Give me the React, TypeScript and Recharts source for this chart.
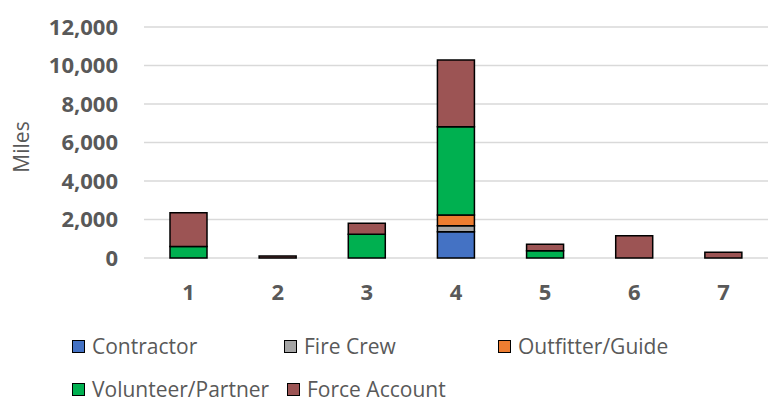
import { BarChart, Bar, XAxis, YAxis, CartesianGrid } from 'recharts'

const regions = ['1', '2', '3', '4', '5', '6', '7']
const contractor = [0, 0, 0, 1370, 0, 0, 0]
const fireCrew = [0, 0, 0, 310, 0, 0, 0]
const outfitter = [0, 0, 0, 550, 0, 0, 0]
const volunteer = [600, 0, 1230, 4590, 380, 0, 0]
const forceAccount = [1750, 100, 570, 3470, 330, 1160, 300]
const yTicks = [0, 2000, 4000, 6000, 8000, 10000, 12000]

const series = [
  { key: 'contractor', name: 'Contractor', color: '#4472C4' },
  { key: 'fireCrew', name: 'Fire Crew', color: '#A5A5A5' },
  { key: 'outfitter', name: 'Outfitter/Guide', color: '#ED7D31' },
  { key: 'volunteer', name: 'Volunteer/Partner', color: '#00B050' },
  { key: 'forceAccount', name: 'Force Account', color: '#9C5454' },
]

const data = regions.map((r, i) => ({
  name: r,
  contractor: contractor[i],
  fireCrew: fireCrew[i],
  outfitter: outfitter[i],
  volunteer: volunteer[i],
  forceAccount: forceAccount[i],
}))

// legend slots, laid out like the Excel legend
const legendPos = [
  { left: 72, top: 346 },
  { left: 284, top: 346 },
  { left: 498, top: 346 },
  { left: 72, top: 389 },
  { left: 287, top: 389 },
]

const font = '"Open Sans", sans-serif'
const grey = '#595959'

export default function App() {
  return (
    <div style={{ position: 'absolute', left: 0, top: 0, width: 768, height: 403, background: '#fff', fontFamily: font }}>
      <BarChart width={768} height={403} data={data} margin={{ top: 27, right: 0, left: 0, bottom: 105 }} barSize={37}>
        <CartesianGrid stroke="#d9d9d9" strokeWidth={1.3} vertical={false} />
        <XAxis
          dataKey="name"
          height={40}
          axisLine={false}
          tickLine={false}
          tickMargin={20}
          tick={{ fill: grey, fontSize: 22, fontWeight: 700, fontFamily: font }}
        />
        <YAxis
          width={144}
          domain={[0, 12000]}
          ticks={yTicks}
          axisLine={false}
          tickLine={false}
          tickMargin={20}
          tick={{ fill: grey, fontSize: 22, fontWeight: 700, fontFamily: font }}
          tickFormatter={(v) => Number(v).toLocaleString('en-US')}
        />
        {series.map((s) => (
          <Bar key={s.key} dataKey={s.key} name={s.name} stackId="a" fill={s.color} stroke="#000" strokeWidth={1.5} isAnimationActive={false} />
        ))}
      </BarChart>
      <div style={{ position: 'absolute', left: 21, top: 147, transform: 'translate(-50%, -50%) rotate(-90deg)', color: grey, fontSize: 21, whiteSpace: 'nowrap' }}>
        Miles
      </div>
      {series.map((s, i) => (
        <div key={s.key} style={{ position: 'absolute', left: legendPos[i].left, top: legendPos[i].top, transform: 'translateY(-50%)', display: 'flex', alignItems: 'center', color: grey, fontSize: 21, whiteSpace: 'nowrap' }}>
          <span style={{ display: 'inline-block', width: 11, height: 11, background: s.color, border: '1.5px solid #000', marginRight: 7 }} />
          {s.name}
        </div>
      ))}
    </div>
  )
}
